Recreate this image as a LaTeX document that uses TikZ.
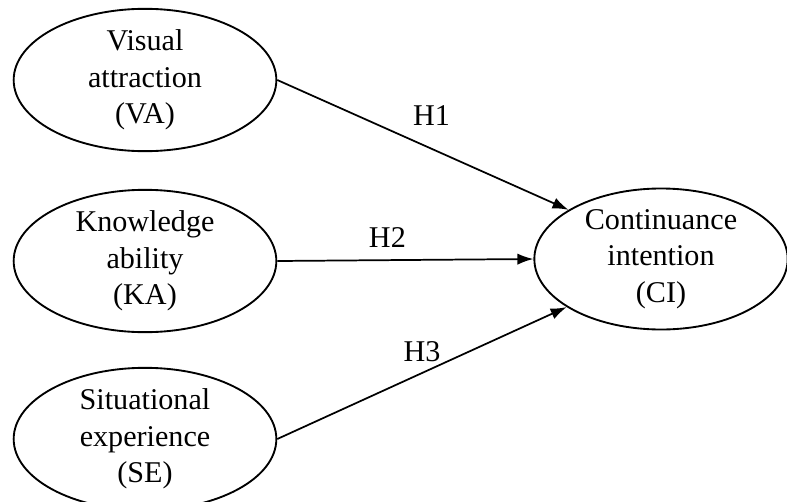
\documentclass[tikz,border=0pt]{standalone}
\usepackage{fontspec}
\setmainfont{Liberation Serif}
\usetikzlibrary{shapes.geometric}
\usetikzlibrary{arrows.meta}
\usetikzlibrary{positioning}
\tikzset {
  % latent construct
  construct/.style = {
    draw = black,
    ellipse,
    line width = 1.4pt,
    inner sep = 0,
    minimum width = 197pt,
    minimum height = 100pt,
    align = center,
    font = \fontsize{22.6}{27.5}\selectfont
  },
  % hypothesis path
  hyp/.style = {
    draw = black,
    line width = 1.3pt,
    -{Latex[length = 12pt, width = 8.5pt]}
  },
  % hypothesis label
  hlabel/.style = {
    inner sep = 0,
    font = \fontsize{22.6}{27.5}\selectfont
  }
}

\begin{document}
\begin{tikzpicture}[x = 0.75pt, y = 0.75pt]
    \useasboundingbox (0, 0) rectangle (787, 501);

    \node[construct] (va) at (145, 421) {Visual\\attraction\\(VA)};
    \node[construct] (ka) at (145, 240) {Knowledge\\ability\\(KA)};
    \node[construct] (se) at (145, 62) {Situational\\experience\\(SE)};

    \node[construct, minimum width = 190pt] (ci) at (661, 242)
      {Continuance\\intention\\(CI)};

    \draw [hyp] (va.east) -- (ci.152)
      node[hlabel, pos = 0.53, above = 17pt] {H1};

    \draw [hyp] (ka.east) -- (ci.west)
      node[hlabel, pos = 0.43, above = 9pt] {H2};

    \draw [hyp] (se.east) -- (ci.207)
      node[hlabel, pos = 0.5, above = 8pt] {H3};
  \end{tikzpicture}
\end{document}
